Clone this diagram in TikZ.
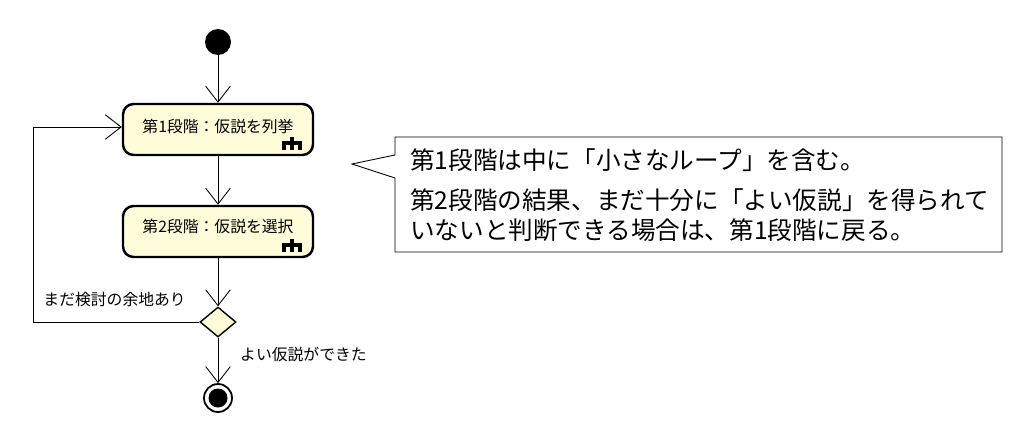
\documentclass[tikz,border=0pt]{standalone}
\usepackage{fontspec}
\newfontfamily\cjk{Noto Sans CJK JP}
\usetikzlibrary{arrows.meta,shapes.geometric}
\begin{document}
\begin{tikzpicture}[x=0.02cm,y=-0.02cm,font=\cjk,
  act/.style={draw,line width=1.4pt,rounded corners=6pt,fill=yellow!15!white,minimum width=190*0.02cm,minimum height=51*0.02cm,inner sep=0pt},
  flow/.style={-{Straight Barb[length=9pt,width=14pt]},line width=0.5pt},
  lbl/.style={font=\cjk\fontsize{9}{11}\selectfont}]
\useasboundingbox (0,0) rectangle (1024,443);
\fill (218,42) circle (13);
\node[circle,minimum size=26*0.02cm,inner sep=0pt] (start) at (218,42) {};
\node[act] (a1) at (218,129.5) {};
\node[lbl] at (218,126) {第1段階：仮説を列挙};
\node[act] (a2) at (218,231.5) {};
\node[lbl] at (218,226) {第2段階：仮説を選択};
\foreach \y in {140,242}{
  \draw[line width=2pt] (284,\y+10) -- (284,\y+3) -- (300,\y+3) -- (300,\y+10) (292,\y-3) -- (292,\y+10);
}
\node[diamond,draw,fill=yellow!15!white,line width=0.8pt,minimum width=36*0.02cm,minimum height=30*0.02cm,inner sep=0pt] (d) at (218,322) {};
\node[circle,draw,line width=1pt,minimum size=28*0.02cm,inner sep=0pt] (f) at (218,398) {};
\fill (218,398) circle (9.5);
\draw[flow] (start) -- (a1);
\draw[flow] (a1) -- (a2);
\draw[flow] (a2) -- (d);
\draw[flow] (d) -- (f);
\draw[flow] (d.west) -- (33,322) -- (33,127) -- (a1.west|-0,127);
\node[lbl,anchor=east] at (192,300) {まだ検討の余地あり};
\node[lbl,anchor=west] at (234,354) {よい仮説ができた};
\draw[line width=0.5pt,fill=white] (395,137) -- (1002,137) -- (1002,252) -- (395,252) -- (395,178) -- (352,164) -- (395,155) -- cycle;
\begin{scope}[font=\cjk\fontsize{14}{17}\selectfont]
\node[anchor=west] at (404,160) {第1段階は中に「小さなループ」を含む。};
\node[anchor=west] at (404,200) {第2段階の結果、まだ十分に「よい仮説」を得られて};
\node[anchor=west] at (404,230) {いないと判断できる場合は、第1段階に戻る。};
\end{scope}
\end{tikzpicture}
\end{document}
